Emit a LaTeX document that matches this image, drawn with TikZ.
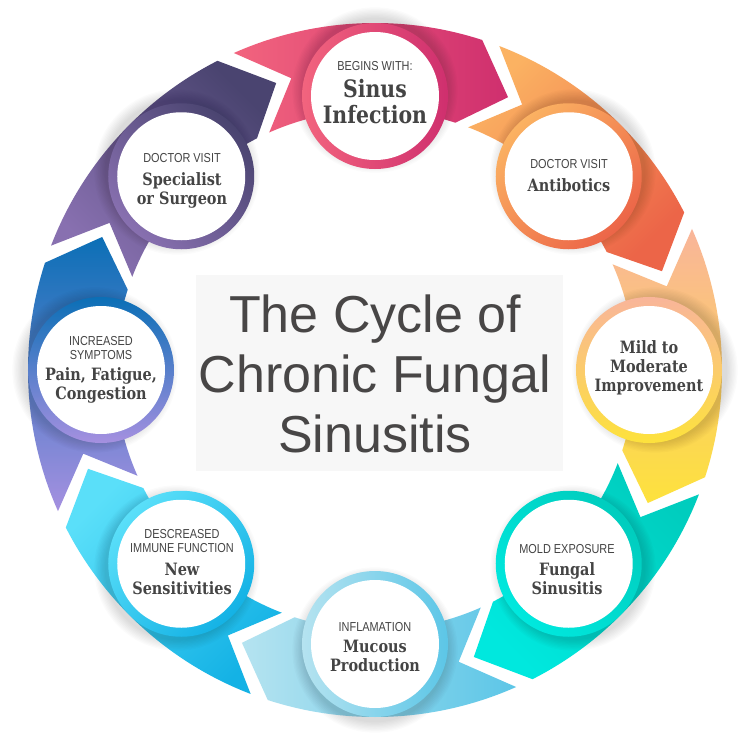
\documentclass[tikz,border=0pt]{standalone}
\usepackage{fontspec}
\setmainfont{Liberation Sans}
\newfontfamily\slabfont{DejaVu Serif}[FakeStretch=0.85]
\newfontfamily\capfont{Liberation Sans}[FakeStretch=0.84]
\definecolor{txt}{HTML}{444444}
\definecolor{titlegray}{HTML}{484646}
\definecolor{boxgray}{HTML}{F7F7F7}
\definecolor{c1a}{HTML}{F2647E}\definecolor{c1b}{HTML}{CF2F6E}
\definecolor{c2a}{HTML}{FBB262}\definecolor{c2b}{HTML}{EC6548}
\definecolor{c3a}{HTML}{F9B59A}\definecolor{c3b}{HTML}{FDE23C}
\definecolor{c4a}{HTML}{00CDBE}\definecolor{c4b}{HTML}{00E8DE}
\definecolor{c5a}{HTML}{5CC6E7}\definecolor{c5b}{HTML}{B5E3F0}
\definecolor{c6a}{HTML}{14B2E5}\definecolor{c6b}{HTML}{5ADFF9}
\definecolor{c7a}{HTML}{A590E0}\definecolor{c7b}{HTML}{0B6FB6}
\definecolor{c8a}{HTML}{8870B0}\definecolor{c8b}{HTML}{4A4470}
\newcommand\lblsmall[1]{{\capfont\fontsize{13}{14}\selectfont #1}}
\newcommand\lblmain[1]{{\slabfont\bfseries #1}}
\tikzset{
  lbl/.style={align=center, text=txt, inner sep=0pt, font=\fontsize{17}{19}\selectfont},
  titletext/.style={align=center, text=titlegray, inner sep=0pt, anchor=north, font=\fontsize{52}{60}\selectfont},
  shadowdisc/.style={black, opacity=0.016}
}
\begin{document}
\begin{tikzpicture}[x=1pt,y=1pt]
\useasboundingbox (-375,-378) rectangle (373,370);
\fill[white] (-375,-378) rectangle (373,370);
% ring segments (chevron arrows, clockwise)
\foreach \t/\ca/\cb in {90/c1a/c1b, 45/c2a/c2b, 0/c3a/c3b, -45/c4a/c4b, -90/c5a/c5b, -135/c6a/c6b, 180/c7a/c7b, 135/c8a/c8b} {
  \pgfmathsetmacro\angA{\t+24}
  \pgfmathsetmacro\angB{\t-18}
  \pgfmathsetmacro\angN{\t+16}
  \pgfmathsetmacro\angP{\t-26}
  \shade[left color=\ca, right color=\cb, shading angle=\t]
    (\angA:347pt) arc[start angle=\angA, end angle=\angB, radius=347pt]
    -- (\angP:303.5pt) -- (\angB:260pt)
    arc[start angle=\angB, end angle=\angA, radius=260pt]
    -- (\angN:303.5pt) -- cycle;
}
% circles
\foreach \t/\ca/\cb [count=\i] in {90/c1a/c1b, 45/c2a/c2b, 0/c3a/c3b, -45/c4a/c4b, -90/c5a/c5b, -135/c6a/c6b, 180/c7a/c7b, 135/c8a/c8b} {
  \coordinate (p\i) at (\t:274pt);
  \foreach \k in {1,...,9} {
    \fill[shadowdisc] ([shift={(\t:6pt)}]p\i) circle[radius=71pt+1.3pt*\k];
  }
  \shade[left color=\ca, right color=\cb, shading angle=\t] (p\i) circle[radius=73pt];
  \fill[white] (p\i) circle[radius=64pt];
}
% centre title
\node[fill=boxgray, minimum width=367pt, minimum height=196pt, inner sep=0pt] (box) at (4.5,-3) {};
\node[titletext] (title) at (0,75) {The Cycle of\\Chronic Fungal\\Sinusitis};
% labels
\node[lbl, font=\fontsize{24}{26}\selectfont] (t1) at (0,277.5) {\lblsmall{BEGINS WITH:}\\[1pt]\lblmain{Sinus}\\\lblmain{Infection}};
\node[lbl] (t2) at (194,194) {\lblsmall{DOCTOR VISIT}\\[4pt]\lblmain{Antibotics}};
\node[lbl] (t3) at (274,2.5) {\lblmain{Mild to}\\\lblmain{Moderate}\\\lblmain{Improvement}};
\node[lbl] (t4) at (192,-199.5) {\lblsmall{MOLD EXPOSURE}\\[3pt]\lblmain{Fungal}\\\lblmain{Sinusitis}};
\node[lbl] (t5) at (0,-277.5) {\lblsmall{INFLAMATION}\\[2pt]\lblmain{Mucous}\\\lblmain{Production}};
\node[lbl] (t6) at (-193,-192.5) {\lblsmall{DESCREASED}\\[-5pt]\lblsmall{IMMUNE FUNCTION}\\[4pt]\lblmain{New}\\\lblmain{Sensitivities}};
\node[lbl] (t7) at (-274,0) {\lblsmall{INCREASED}\\[-5pt]\lblsmall{SYMPTOMS}\\[2pt]\lblmain{Pain, Fatigue,}\\\lblmain{Congestion}};
\node[lbl] (t8) at (-193,189.5) {\lblsmall{DOCTOR VISIT}\\[4pt]\lblmain{Specialist}\\\lblmain{or Surgeon}};
\end{tikzpicture}
\end{document}
